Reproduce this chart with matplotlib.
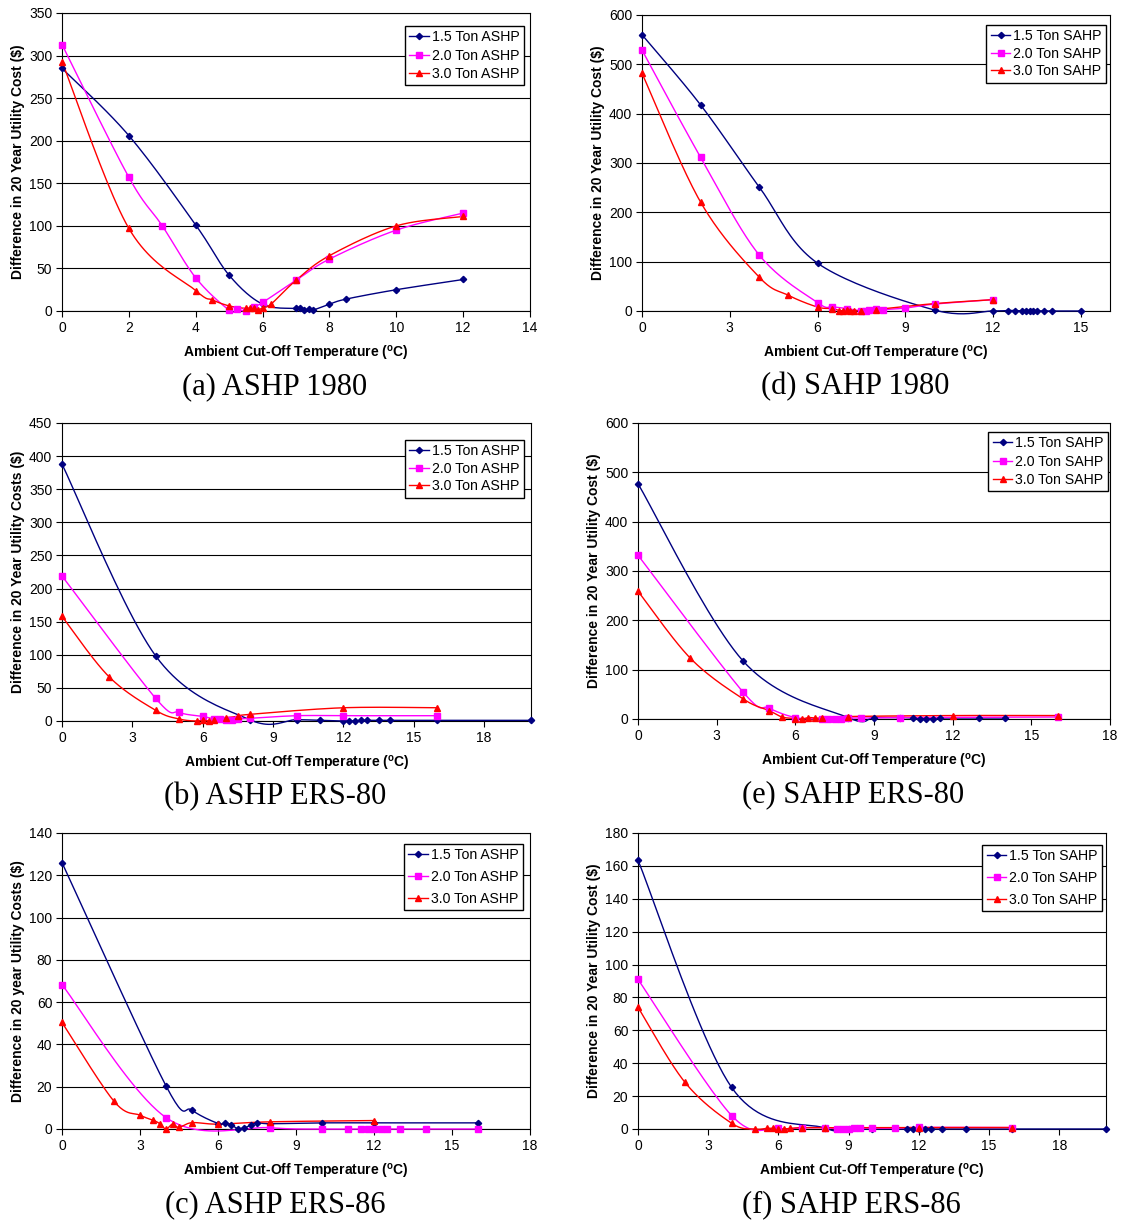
import numpy as np
import matplotlib
matplotlib.use("Agg")
import matplotlib.pyplot as plt

plt.rcParams["font.family"] = ["Liberation Sans", "DejaVu Sans"]
plt.rcParams["mathtext.fontset"] = "custom"
plt.rcParams["mathtext.rm"] = "Liberation Sans"
plt.rcParams["mathtext.bf"] = "Liberation Sans:bold"

# (a) ASHP 1980
a_x15 = [0, 2, 4, 5, 6, 7, 7.125, 7.25, 7.375, 7.5, 8, 8.5, 10, 12]
a_y15 = [285, 206, 101, 42, 8, 3, 3, 1, 2, 1, 8, 14, 25, 37]
a_x20 = [0, 2, 3, 4, 5, 5.25, 5.5, 5.75, 6, 7, 8, 10, 12]
a_y20 = [313, 157, 100, 39, 1, 2, 0, 5, 10, 36, 61, 95, 115]
a_x30 = [0, 2, 4, 4.5, 5, 5.5, 5.625, 5.75, 5.875, 6, 6.25, 7, 8, 10, 12]
a_y30 = [293, 97, 24, 13, 6, 3, 4, 3, 1, 4, 8, 36, 65, 100, 111]

# (d) SAHP 1980
d_x15 = [0, 2, 4, 6, 10, 12, 12.5, 12.75, 13, 13.125, 13.25, 13.375, 13.5, 13.75, 14, 15]
d_y15 = [560, 418, 252, 97, 2, 0, 1, 1, 0, 0, 0, 0, 0, 0, 0, 0]
d_x20 = [0, 2, 4, 6, 6.5, 7, 7.5, 7.67, 7.75, 8, 8.25, 9, 10, 12]
d_y20 = [529, 312, 114, 17, 9, 5, 0, 1, 2, 4, 3, 6, 14, 23]
d_x30 = [0, 2, 4, 5, 6, 6.5, 6.75, 6.875, 7, 7.125, 7.25, 7.5, 8, 10, 12]
d_y30 = [482, 221, 69, 32, 8, 5, 1, 1, 2, 1, 1, 1, 3, 15, 23]

# (b) ASHP ERS-80
b_x15 = [0, 4, 8, 10, 11, 12, 12.25, 12.5, 12.75, 13, 13.5, 14, 16, 20]
b_y15 = [388, 98, 2, 2, 1, 0, 0, 0, 1, 1, 1, 1, 1, 1]
b_x20 = [0, 4, 5, 6, 6.5, 6.75, 7, 7.25, 7.5, 8, 10, 12, 16]
b_y20 = [219, 34, 13, 7, 3, 3, 1, 2, 3, 4, 8, 8, 8]
b_x30 = [0, 2, 4, 5, 5.75, 6, 6.25, 6.5, 7, 7.5, 8, 12, 16]
b_y30 = [158, 67, 16, 3, 0, 2, 0, 1, 5, 7, 10, 20, 20]

# (e) SAHP ERS-80
e_x15 = [0, 4, 8, 9, 10, 10.5, 10.75, 11, 11.25, 11.5, 13, 14]
e_y15 = [477, 118, 3, 3, 3, 2, 1, 0, 1, 2, 2, 2]
e_x20 = [0, 4, 5, 6, 7, 7.25, 7.5, 7.75, 8, 8.5, 10, 16]
e_y20 = [332, 55, 22, 3, 0, 1, 0, 1, 2, 2, 3, 4]
e_x30 = [0, 2, 4, 5, 5.5, 6, 6.25, 6.5, 6.75, 7, 8, 12, 16]
e_y30 = [259, 123, 41, 17, 4, 1, 0, 3, 2, 2, 5, 7, 7]

# (c) ASHP ERS-86
c_x15 = [0, 4, 5, 6, 6.25, 6.5, 6.75, 7, 7.25, 7.5, 8, 10, 12, 16]
c_y15 = [126, 20.4, 8.9, 2.6, 2.8, 2.1, 0.2, 0.5, 1.7, 3.0, 2.5, 2.9, 2.9, 2.9]
c_x20 = [0, 4, 8, 10, 11, 11.5, 11.75, 12, 12.25, 12.5, 13, 14, 16]
c_y20 = [68.3, 5.4, 0.6, 0, 0, 0, 0, 0, 0, 0, 0, 0, 0]
c_x30 = [0, 2, 3, 3.5, 3.75, 4, 4.25, 4.5, 5, 6, 8, 12]
c_y30 = [50.4, 13.1, 6.5, 4.2, 2.6, 0, 2.3, 0.8, 3.0, 2.3, 3.4, 4.0]

# (f) SAHP ERS-86
f_x15 = [0, 4, 8, 9, 10, 11.5, 11.75, 12, 12.25, 12.5, 13, 14, 16, 20]
f_y15 = [163.5, 25.3, 0.5, 0, 0, 0, 0, 0, 0, 0, 0, 0, 0, 0]
f_x20 = [0, 4, 6, 7, 8, 8.5, 8.75, 9, 9.25, 9.5, 10, 11, 12, 16]
f_y20 = [91, 8.2, 0.4, 0.8, 0.8, 0, 0, 0, 0.4, 0.6, 0.5, 0.5, 1.0, 0.9]
f_x30 = [0, 2, 4, 5, 5.5, 5.75, 6, 6.25, 6.5, 7, 8, 12, 16]
f_y30 = [74, 28.5, 3.5, 0, 0.4, 0.4, 0, 0, 0.4, 0.8, 0.8, 0.9, 0.9]

W, H = 1124, 1222


def smooth(x, y, n=24):
    # excel-like smoothed line: cubic bezier through the points (catmull-rom)
    p = np.column_stack([x, y]).astype(float)
    out = [p[0]]
    t = np.linspace(0, 1, n)[1:, None]
    for i in range(len(p) - 1):
        p0 = p[i - 1] if i > 0 else p[i]
        p3 = p[i + 2] if i + 2 < len(p) else p[i + 1]
        c1 = p[i] + (p[i + 1] - p0) / 6
        c2 = p[i + 1] - (p3 - p[i]) / 6
        seg = ((1 - t) ** 3 * p[i] + 3 * (1 - t) ** 2 * t * c1
               + 3 * (1 - t) * t ** 2 * c2 + t ** 3 * p[i + 1])
        out.extend(seg)
    out = np.array(out)
    return out[:, 0], out[:, 1]


def panel(rect, series, kind, xlim, xticks, ylim, ystep, ylabel, caption, leg, lspace):
    l, t, r, b = rect
    ax = fig.add_axes([l / W, 1 - b / H, (r - l) / W, (b - t) / H])
    styles = [("#000080", "D", 3.2), ("#FF00FF", "s", 4.3), ("#FF0000", "^", 4.8)]
    names = ["1.5 Ton " + kind, "2.0 Ton " + kind, "3.0 Ton " + kind]
    for (x, y), (col, mk, ms), name in zip(series, styles, names):
        sx, sy = smooth(x, y)
        ax.plot(sx, sy, color=col, lw=1.0, clip_on=False, zorder=3)
        ax.plot(x, y, ls="none", marker=mk, ms=ms, color=col, mec=col,
                clip_on=False, zorder=4)
        ax.plot([], [], color=col, lw=1.0, marker=mk, ms=ms, label=name)
    ax.set_xlim(*xlim)
    ax.set_ylim(*ylim)
    ax.set_xticks(xticks)
    ax.set_yticks(np.arange(ylim[0], ylim[1] + 1, ystep))
    ax.yaxis.grid(True, color="black", lw=0.8)
    ax.set_axisbelow(True)
    for s in ax.spines.values():
        s.set_color("black")
        s.set_linewidth(0.8)
    ax.tick_params(direction="out", length=4, width=0.8, labelsize=10, pad=3)
    ax.set_xlabel(r"Ambient Cut-Off Temperature ($^{\mathbf{o}}$C)",
                  fontsize=10, fontweight="bold", labelpad=7)
    ax.set_ylabel(ylabel, fontsize=10, fontweight="bold", labelpad=3)
    ax.legend(loc="upper right", bbox_to_anchor=(leg[0] / W, 1 - leg[1] / H),
              bbox_transform=fig.transFigure, fontsize=10.2, frameon=True,
              fancybox=False, edgecolor="black", framealpha=1, borderaxespad=0,
              handlelength=1.4, handletextpad=0.2, labelspacing=lspace,
              borderpad=0.3)
    ax.get_legend().get_frame().set_linewidth(1.0)
    fig.text(((l + r) / 2 - 21) / W, 1 - (b + 76) / H, caption, ha="center",
             va="center", fontsize=22, family="Liberation Serif")
    return ax


fig = plt.figure(figsize=(W / 100, H / 100), dpi=100)

panel((62, 13, 530, 311), [(a_x15, a_y15), (a_x20, a_y20), (a_x30, a_y30)], "ASHP",
      (0, 14), range(0, 15, 2), (0, 350), 50,
      r"Difference in 20 Year Utility Cost (\$)", "(a) ASHP 1980", (524, 26), 0.3)
panel((642, 15, 1110, 311), [(d_x15, d_y15), (d_x20, d_y20), (d_x30, d_y30)], "SAHP",
      (0, 16), range(0, 16, 3), (0, 600), 100,
      r"Difference in 20 Year Utility Cost (\$)", "(d) SAHP 1980", (1106, 25), 0.25)
panel((62, 423, 531, 721), [(b_x15, b_y15), (b_x20, b_y20), (b_x30, b_y30)], "ASHP",
      (0, 20), range(0, 19, 3), (0, 450), 50,
      r"Difference in 20 Year Utility Costs (\$)", "(b) ASHP ERS-80", (524, 440), 0.25)
panel((638, 423, 1110, 719), [(e_x15, e_y15), (e_x20, e_y20), (e_x30, e_y30)], "SAHP",
      (0, 18), range(0, 19, 3), (0, 600), 100,
      r"Difference in 20 Year Utility Cost (\$)", "(e) SAHP ERS-80", (1108, 432), 0.3)
panel((62, 833, 530, 1129), [(c_x15, c_y15), (c_x20, c_y20), (c_x30, c_y30)], "ASHP",
      (0, 18), range(0, 19, 3), (0, 140), 20,
      r"Difference in 20 year Utility Costs (\$)", "(c) ASHP ERS-86", (523, 844), 0.55)
panel((638, 833, 1106, 1129), [(f_x15, f_y15), (f_x20, f_y20), (f_x30, f_y30)], "SAHP",
      (0, 20), range(0, 19, 3), (0, 180), 20,
      r"Difference in 20 Year Utility Cost (\$)", "(f) SAHP ERS-86", (1102, 845), 0.55)

fig.savefig("out.png", dpi=100)
